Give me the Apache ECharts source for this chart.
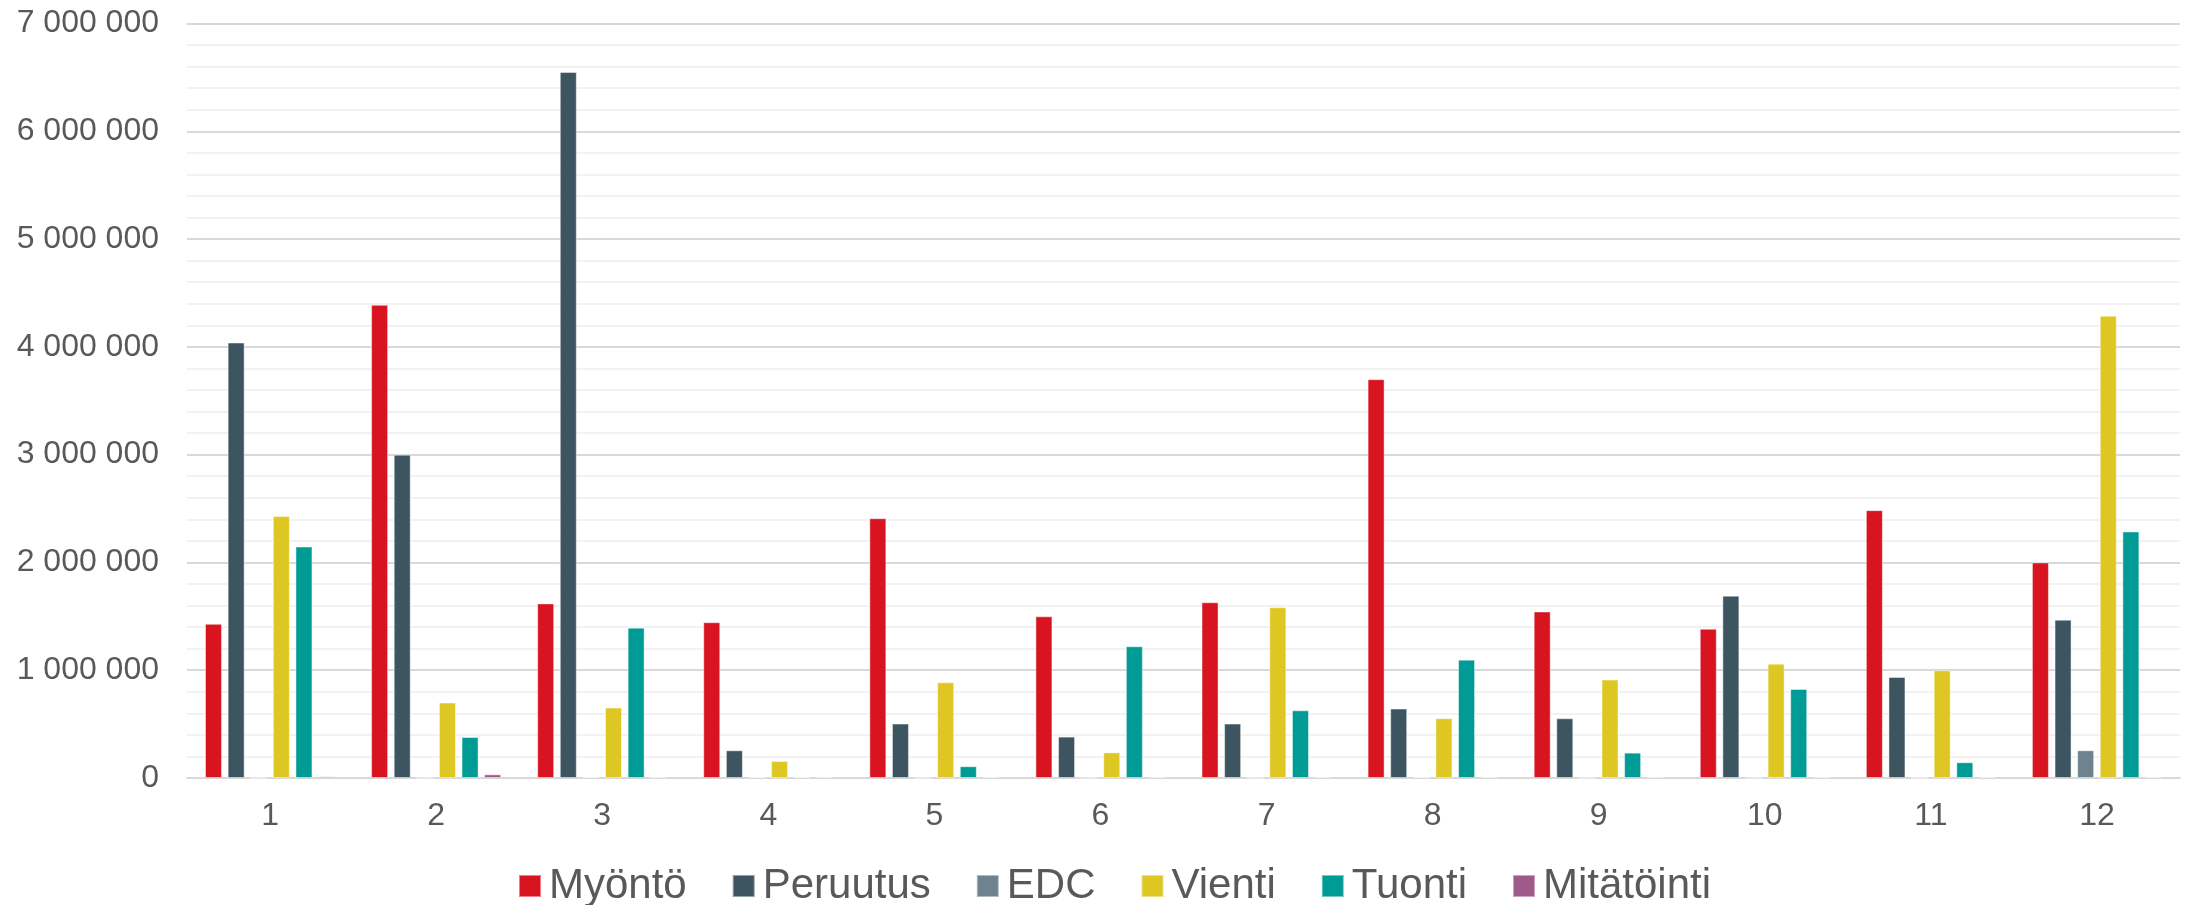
<!DOCTYPE html>
<html>
<head>
<meta charset="utf-8">
<script src="https://cdn.jsdelivr.net/npm/echarts@6/dist/echarts.min.js"></script>
<style>
html,body{margin:0;padding:0;background:#fff;}
#chart{width:2186px;height:905px;}
</style>
</head>
<body>
<div id="chart"></div>
<script>
const categories = ['1','2','3','4','5','6','7','8','9','10','11','12'];
const seriesNames = ['Myöntö','Peruutus','EDC','Vienti','Tuonti','Mitätöinti'];
const myonto    = [1430000, 4390000, 1620000, 1445000, 2410000, 1500000, 1630000, 3700000, 1545000, 1385000, 2485000, 2000000];
const peruutus  = [4040000, 3000000, 6550000, 257000, 505000, 384000, 505000, 644000, 554000, 1692000, 937000, 1469000];
const edc       = [0, 0, 8000, 8000, 0, 0, 0, 8000, 0, 0, 0, 257000];
const vienti    = [2430000, 700000, 653000, 158000, 888000, 238000, 1584000, 554000, 913000, 1061000, 999000, 4289000];
const tuonti    = [2147000, 380000, 1395000, 8000, 109000, 1222000, 628000, 1098000, 235000, 826000, 146000, 2288000];
const mitatointi= [15000, 34000, 10000, 10000, 10000, 10000, 10000, 10000, 10000, 10000, 10000, 10000];
const colors = ['#d7141f','#3d5560','#6e828f','#dec722','#009b95','#a05a8a'];
const allData = [myonto, peruutus, edc, vienti, tuonti, mitatointi];

const fmt = v => String(v).replace(/\B(?=(\d{3})+(?!\d))/g, ' ');
const textColor = '#595959';
const font = '"Liberation Sans", Arial, sans-serif';

const chart = echarts.init(document.getElementById('chart'), null, {renderer:'canvas'});
chart.setOption({
  animation: false,
  backgroundColor: '#fff',
  color: colors,
  grid: {left: 187, right: 6, top: 23.5, bottom: 127, containLabel: false},
  legend: {
    data: seriesNames,
    left: 513, top: 860,
    itemWidth: 22, itemHeight: 22, itemGap: 45,
    icon: 'rect',
    textStyle: {color: textColor, fontSize: 42, fontFamily: font, padding: [0,0,0,3]}
  },
  xAxis: {
    type: 'category',
    data: categories,
    axisLine: {show: true, lineStyle: {color: '#d9d9d9', width: 2}},
    axisTick: {show: false},
    axisLabel: {color: textColor, fontSize: 32, fontFamily: font, margin: 22},
    splitLine: {show: false}
  },
  yAxis: {
    type: 'value',
    min: 0, max: 7000000, interval: 1000000,
    axisLine: {show: false},
    axisTick: {show: false},
    axisLabel: {color: textColor, fontSize: 32, fontFamily: font, margin: 28, formatter: fmt},
    splitLine: {show: true, lineStyle: {color: '#d9d9d9', width: 2}},
    minorTick: {show: false, splitNumber: 5},
    minorSplitLine: {show: true, lineStyle: {color: '#f2f2f2', width: 2}}
  },
  series: seriesNames.map((n, i) => ({
    name: n,
    type: 'bar',
    data: allData[i],
    barWidth: 17,
    barGap: '33%',
    itemStyle: {color: colors[i], borderColor: 'rgba(255,255,255,0.45)', borderWidth: 1}
  }))
});
</script>
</body>
</html>
